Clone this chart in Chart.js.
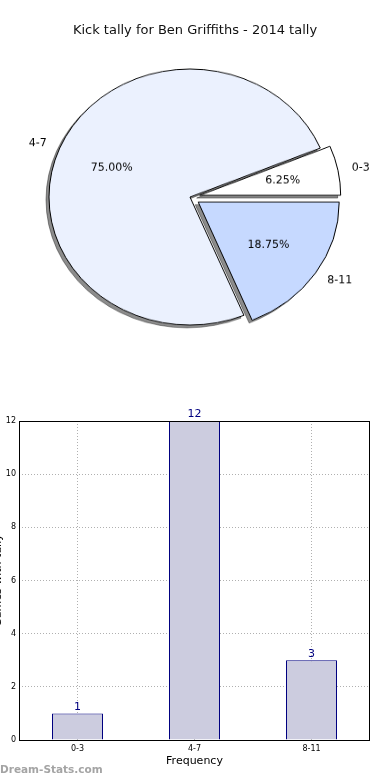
<!DOCTYPE html>
<html lang="en">
<head>
<meta charset="UTF-8">
<title>Kick tally</title>
<style>
  body { margin: 0; background: #fff; font-family: "DejaVu Sans", sans-serif; }
  .main { position: relative; width: 390px; height: 780px; overflow: hidden; }
  .titulo { position: absolute; left: 0; top: 22px; width: 390px; text-align: center; font-size: 13px; line-height: 16px; color: #111; }
  .pizza { position: absolute; left: 0; top: 0; width: 390px; height: 434px; transform: scaleY(0.908); transform-origin: top left; }
  .barras { position: absolute; left: 0; top: 400px; width: 390px; height: 380px; }
  .marca { position: absolute; left: 0; top: 763px; font-size: 10.5px; font-weight: bold; color: #a4a4a4; }
</style>
<script src="https://cdn.jsdelivr.net/npm/chart.js"></script>
</head>
<body>
<div class="main">
  <div class="pizza"><canvas id="pizza" width="390" height="434"></canvas></div>
  <div class="titulo">Kick tally for Ben Griffiths - 2014 tally</div>
  <div class="barras"><canvas id="barras" width="390" height="380"></canvas></div>
  <div class="marca">Dream-Stats.com</div>
</div>
<script>
const categories = ['0-3', '4-7', '8-11'];
const tallies = [1, 12, 3];
const explode = [0.07, 0, 0.07];
const yTicks = [0, 2, 4, 6, 8, 10, 12];

Chart.defaults.font.family = '"DejaVu Sans", sans-serif';
Chart.defaults.color = '#000';

// pie goes clockwise in chart.js, matplotlib goes counter clockwise -> reverse
const sliceColors = { '0-3': '#ffffff', '4-7': '#ebf1fe', '8-11': '#c6d9ff' };
const pieLabels = categories.slice().reverse();
const pieData = tallies.slice().reverse();
const pieExplode = explode.slice().reverse();
const total = tallies.reduce((a, b) => a + b, 0);
const squish = 0.908;

const pieExtras = {
  id: 'pieExtras',
  afterDatasetUpdate(chart) {
    const arcs = chart.getDatasetMeta(0).data;
    arcs.forEach((arc, i) => {
      const mid = (arc.startAngle + arc.endAngle) / 2;
      const d = pieExplode[i] * arc.outerRadius;
      arc.x += Math.cos(mid) * d;
      arc.y += Math.sin(mid) * d;
    });
  },
  beforeDatasetDraw(chart) {
    // drop shadow, drawn under the slices
    const ctx = chart.ctx;
    const arcs = chart.getDatasetMeta(0).data;
    ctx.save();
    ctx.translate(-3, 3);
    arcs.forEach(arc => {
      ctx.beginPath();
      ctx.moveTo(arc.x, arc.y);
      ctx.arc(arc.x, arc.y, arc.outerRadius, arc.startAngle, arc.endAngle);
      ctx.closePath();
      ctx.fillStyle = 'rgba(0,0,0,0.45)';
      ctx.fill();
      ctx.lineWidth = 0.8;
      ctx.strokeStyle = 'rgba(0,0,0,0.5)';
      ctx.stroke();
    });
    ctx.restore();
  },
  afterDraw(chart) {
    const ctx = chart.ctx;
    const arcs = chart.getDatasetMeta(0).data;
    ctx.save();
    ctx.font = '11px "DejaVu Sans"';
    ctx.fillStyle = '#000';
    ctx.textBaseline = 'middle';
    arcs.forEach((arc, i) => {
      const mid = (arc.startAngle + arc.endAngle) / 2;
      const r = arc.outerRadius;
      const lx = arc.x + Math.cos(mid) * r * 1.1;
      const ly = arc.y + Math.sin(mid) * r * 1.1;
      const px = arc.x + Math.cos(mid) * r * 0.6;
      const py = arc.y + Math.sin(mid) * r * 0.6;
      ctx.save();
      ctx.translate(lx, ly);
      ctx.scale(1, 1 / squish);
      ctx.textAlign = Math.cos(mid) >= 0 ? 'left' : 'right';
      ctx.fillText(pieLabels[i], 0, 0);
      ctx.restore();
      ctx.save();
      ctx.translate(px, py);
      ctx.scale(1, 1 / squish);
      ctx.textAlign = 'center';
      ctx.fillText((pieData[i] / total * 100).toFixed(2) + '%', 0, 0);
      ctx.restore();
    });
    ctx.restore();
  }
};

new Chart(document.getElementById('pizza'), {
  type: 'pie',
  data: {
    labels: pieLabels,
    datasets: [{
      data: pieData,
      backgroundColor: pieLabels.map(l => sliceColors[l]),
      borderColor: '#000',
      borderWidth: 1
    }]
  },
  options: {
    responsive: false,
    animation: false,
    rotation: 90,
    radius: 141,
    layout: { padding: { right: 10 } },
    plugins: { legend: { display: false }, tooltip: { enabled: false } }
  },
  plugins: [pieExtras]
});

const barExtras = {
  id: 'barExtras',
  afterDatasetsDraw(chart) {
    const ctx = chart.ctx;
    const bars = chart.getDatasetMeta(0).data;
    ctx.save();
    ctx.font = '11px "DejaVu Sans"';
    ctx.fillStyle = '#000080';
    ctx.textAlign = 'center';
    ctx.textBaseline = 'bottom';
    bars.forEach((bar, i) => {
      ctx.fillText(String(tallies[i]), bar.x, bar.y - 1);
    });
    ctx.restore();
  },
  afterDraw(chart) {
    const ctx = chart.ctx;
    const a = chart.chartArea;
    ctx.save();
    ctx.strokeStyle = '#000';
    ctx.lineWidth = 1;
    ctx.strokeRect(Math.round(a.left) + 0.5, Math.round(a.top) + 0.5,
      Math.round(a.right - a.left) - 1, Math.round(a.bottom - a.top));
    // y title, cut off at the left edge like in the original
    ctx.translate(1, (a.top + a.bottom) / 2);
    ctx.rotate(-Math.PI / 2);
    ctx.font = '11px "DejaVu Sans"';
    ctx.fillStyle = '#000';
    ctx.textAlign = 'center';
    ctx.textBaseline = 'alphabetic';
    ctx.fillText('Games with tally', 0, 0);
    ctx.restore();
  }
};

new Chart(document.getElementById('barras'), {
  type: 'bar',
  data: {
    labels: categories,
    datasets: [{
      data: tallies,
      backgroundColor: '#ccccdf',
      borderColor: '#000080',
      borderWidth: 1,
      inflateAmount: 0,
      barPercentage: 51 / 117,
      categoryPercentage: 1
    }]
  },
  options: {
    responsive: false,
    animation: false,
    layout: { padding: { top: 21, right: 20, left: 0, bottom: 0 } },
    plugins: { legend: { display: false }, tooltip: { enabled: false } },
    scales: {
      x: {
        z: 1,
        afterFit(scale) { scale.height = 40; },
        grid: { offset: false, color: '#b0b0b0', lineWidth: 1, drawTicks: false },
        border: { display: false, dash: [1, 2] },
        ticks: { font: { size: 8 }, padding: 4, maxRotation: 0 },
        title: { display: true, text: 'Frequency', font: { size: 11 }, padding: { top: 0, bottom: 12 } }
      },
      y: {
        z: 1,
        min: 0,
        max: 12,
        afterFit(scale) { scale.width = 19; },
        afterBuildTicks(scale) { scale.ticks = yTicks.map(v => ({ value: v })); },
        grid: { color: '#b0b0b0', lineWidth: 1, drawTicks: false },
        border: { display: false, dash: [1, 2] },
        ticks: { font: { size: 8 }, padding: 3 }
      }
    }
  },
  plugins: [barExtras]
});
</script>
</body>
</html>
